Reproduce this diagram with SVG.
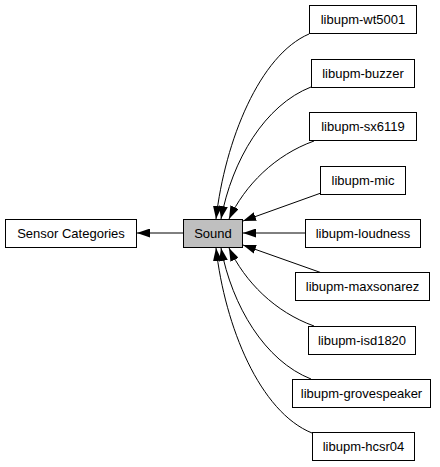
<svg xmlns="http://www.w3.org/2000/svg" width="440" height="467" viewBox="0 0 440 467">
<defs>
<style>
.n rect{fill:#fff;stroke:#000;stroke-width:1}
.n text{font-family:"Liberation Sans",Arial,sans-serif;font-size:13px;text-anchor:middle;fill:#000}
.e path{fill:none;stroke:#000;stroke-width:1}
</style>
<marker id="ah" viewBox="0 0 13 9" refX="13" refY="4.5" markerWidth="13" markerHeight="9" markerUnits="userSpaceOnUse" orient="auto">
<path d="M0,0 L13,4.5 L0,9 z" fill="#000"/>
</marker>
</defs>
<rect width="440" height="467" fill="#fff"/>
<g class="e">
<path d="M183,233 L137,233" marker-end="url(#ah)"/>
<path d="M305,233 L243,233" marker-end="url(#ah)"/>
<path d="M321,193 L243,221" marker-end="url(#ah)"/>
<path d="M322,273 L243,245" marker-end="url(#ah)"/>
<path d="M309,34 C260,55 225,140 216,219" marker-end="url(#ah)"/>
<path d="M311,87 C265,105 232,160 221,219" marker-end="url(#ah)"/>
<path d="M314,141 C275,155 245,185 229,219" marker-end="url(#ah)"/>
<path d="M314,326 C275,312 245,282 229,248" marker-end="url(#ah)"/>
<path d="M311,379 C265,361 232,306 221,248" marker-end="url(#ah)"/>
<path d="M312,433 C260,412 225,327 216,248" marker-end="url(#ah)"/>
</g>
<g id="sensor-categories" class="n"><rect x="5.5" y="219.5" width="131" height="28"/><text x="71" y="238">Sensor Categories</text></g>
<g id="sound" class="n"><rect x="183.5" y="219.5" width="59" height="28" style="fill:#bfbfbf"/><text x="213" y="238">Sound</text></g>
<g id="libupm-wt5001" class="n"><rect x="309.5" y="5.5" width="107" height="28"/><text x="363" y="24">libupm-wt5001</text></g>
<g id="libupm-buzzer" class="n"><rect x="311.5" y="59.5" width="103" height="28"/><text x="363" y="78">libupm-buzzer</text></g>
<g id="libupm-sx6119" class="n"><rect x="309.5" y="112.5" width="107" height="28"/><text x="363" y="131">libupm-sx6119</text></g>
<g id="libupm-mic" class="n"><rect x="320.5" y="166.5" width="85" height="28"/><text x="363" y="185">libupm-mic</text></g>
<g id="libupm-loudness" class="n"><rect x="305.5" y="219.5" width="115" height="28"/><text x="363" y="238">libupm-loudness</text></g>
<g id="libupm-maxsonarez" class="n"><rect x="295.5" y="272.5" width="134" height="28"/><text x="362.5" y="291">libupm-maxsonarez</text></g>
<g id="libupm-isd1820" class="n"><rect x="308.5" y="326.5" width="107" height="28"/><text x="362" y="345">libupm-isd1820</text></g>
<g id="libupm-grovespeaker" class="n"><rect x="292.5" y="379.5" width="138" height="28"/><text x="361.5" y="398">libupm-grovespeaker</text></g>
<g id="libupm-hcsr04" class="n"><rect x="312.5" y="432.5" width="102" height="28"/><text x="363.5" y="451">libupm-hcsr04</text></g>
</svg>
